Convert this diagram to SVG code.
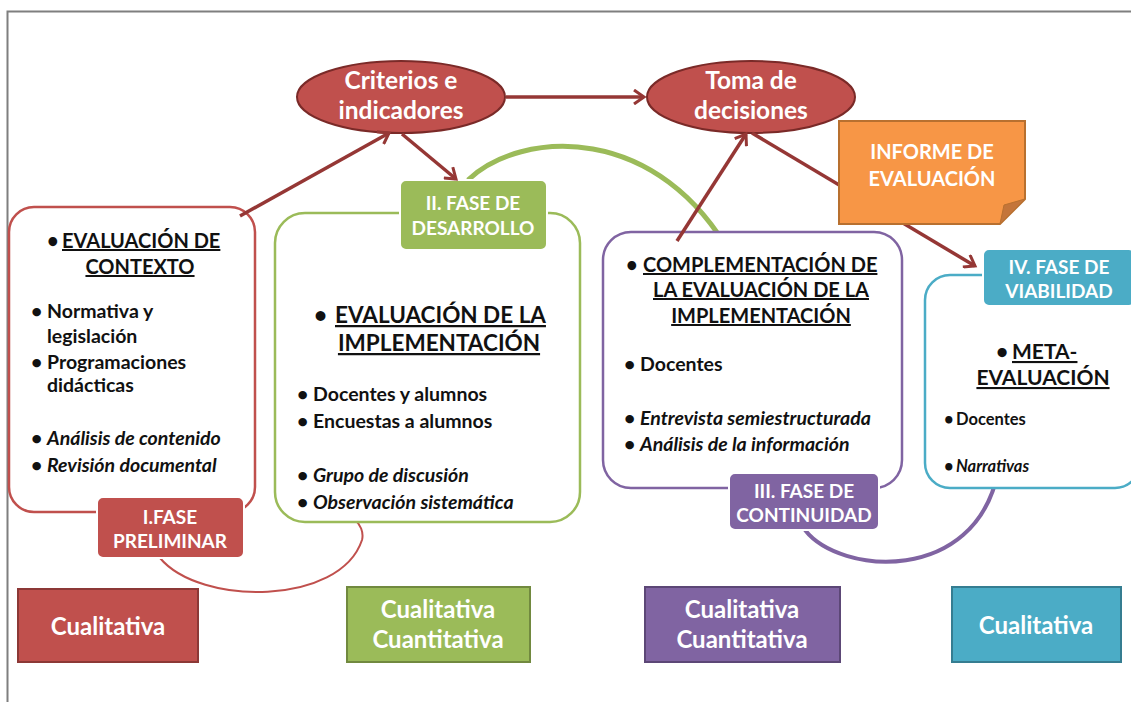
<svg xmlns="http://www.w3.org/2000/svg" width="1131" height="702" viewBox="0 0 1131 702">
<defs>
<marker id="ah" markerWidth="14" markerHeight="16" refX="11" refY="8" orient="auto" markerUnits="userSpaceOnUse" viewBox="0 0 14 16">
<path d="M1,1 L11,8 L1,15" fill="none" stroke="#953735" stroke-width="3"/>
</marker>
<style>
text{font-family:Lato,"Open Sans","Liberation Sans",sans-serif;font-weight:bold}
.w{fill:#fff}
.k{fill:#111}
.c{text-anchor:middle}
.i{font-style:italic}
.u{text-decoration:underline}
.b{font-size:19.5px;fill:#111}
.conn{fill:none;stroke:#953735;stroke-width:3.5;marker-end:url(#ah)}
.lab{stroke:#fff;stroke-width:2}
.lt{fill:#fff;text-anchor:middle;font-size:19px}
</style>
</defs>
<rect width="1131" height="702" fill="#fff"/>
<path d="M7.5,702 V11.5 H1131" fill="none" stroke="#7f7f7f" stroke-width="2"/>

<g id="arcs" fill="none">
<path d="M160,558 C200,606 340,606 362,540 C364,532 360,524 355,520" stroke="#C0504D" stroke-width="2"/>
<path d="M468,180 C520,130 660,120 735,262" stroke="#9BBB59" stroke-width="5"/>
<path d="M805,530 C840,575 975,585 998,472" stroke="#8064A2" stroke-width="4"/>
</g>

<g id="n-contexto">
<rect x="9" y="207" width="246" height="305" rx="25" fill="#fff" stroke="#C0504D" stroke-width="2.5"/>
<text x="47" y="248" class="k" font-size="20">•</text>
<text x="62" y="248" class="k u" font-size="20">EVALUACIÓN DE</text>
<text x="140" y="274" class="k c u" font-size="20">CONTEXTO</text>
<g class="b">
<text x="31" y="318">•</text><text x="47" y="318">Normativa y</text>
<text x="47" y="343">legislación</text>
<text x="31" y="369">•</text><text x="47" y="369">Programaciones</text>
<text x="47" y="392">didácticas</text>
<text x="31" y="445">•</text><text x="47" y="445" class="i">Análisis de contenido</text>
<text x="31" y="472">•</text><text x="47" y="472" class="i">Revisión documental</text>
</g>
</g>
<g id="l-preliminar">
<rect x="97" y="497" width="147" height="61" rx="6" fill="#C0504D" class="lab"/>
<text x="170" y="524" class="lt">I.FASE</text>
<text x="170" y="548" class="lt">PRELIMINAR</text>
</g>

<g id="n-implementacion">
<rect x="275" y="213" width="305" height="309" rx="30" fill="#fff" stroke="#9BBB59" stroke-width="2.5"/>
<text x="314" y="323" class="k" font-size="22.5">•</text>
<text x="335" y="323" class="k u" font-size="22.5">EVALUACIÓN DE LA</text>
<text x="439" y="351" class="k c u" font-size="22.5">IMPLEMENTACIÓN</text>
<g class="b">
<text x="297" y="401">•</text><text x="313" y="401">Docentes y alumnos</text>
<text x="297" y="428">•</text><text x="313" y="428">Encuestas a alumnos</text>
<text x="297" y="482">•</text><text x="313" y="482" class="i">Grupo de discusión</text>
<text x="297" y="509">•</text><text x="313" y="509" class="i">Observación sistemática</text>
</g>
</g>
<g id="l-desarrollo">
<rect x="400" y="180" width="147" height="70" rx="6" fill="#9BBB59" class="lab"/>
<text x="473" y="210" class="lt">II. FASE DE</text>
<text x="473" y="235" class="lt">DESARROLLO</text>
</g>

<g id="n-complementacion">
<rect x="603" y="232" width="299" height="256" rx="28" fill="#fff" stroke="#8064A2" stroke-width="2.5"/>
<text x="626" y="272" class="k" font-size="20">•</text>
<text x="643" y="272" class="k u" font-size="20">COMPLEMENTACIÓN DE</text>
<text x="761" y="297" class="k c u" font-size="20">LA EVALUACIÓN DE LA</text>
<text x="761" y="323" class="k c u" font-size="20">IMPLEMENTACIÓN</text>
<g class="b">
<text x="624" y="371">•</text><text x="640" y="371">Docentes</text>
<text x="624" y="425">•</text><text x="640" y="425" class="i">Entrevista semiestructurada</text>
<text x="624" y="451">•</text><text x="640" y="451" class="i">Análisis de la información</text>
</g>
</g>
<g id="l-continuidad">
<rect x="729" y="473" width="150" height="57" rx="6" fill="#8064A2" class="lab"/>
<text x="804" y="498" class="lt">III. FASE DE</text>
<text x="804" y="522" class="lt">CONTINUIDAD</text>
</g>

<g id="n-meta">
<rect x="925" y="275" width="215" height="213" rx="25" fill="#fff" stroke="#4BACC6" stroke-width="2.5"/>
<text x="996" y="359" class="k" font-size="21">•</text>
<text x="1012" y="359" class="k u" font-size="21">META-</text>
<text x="1043" y="385" class="k c u" font-size="21">EVALUACIÓN</text>
<text x="944" y="425" class="k" font-size="16.5">•</text>
<text x="956" y="425" class="k" font-size="16.5">Docentes</text>
<text x="944" y="472" class="k" font-size="16.5">•</text>
<text x="956" y="472" class="k i" font-size="16.5">Narrativas</text>
</g>
<g id="l-viabilidad">
<rect x="983" y="249" width="152" height="57" rx="6" fill="#4BACC6" class="lab"/>
<text x="1059" y="274" class="lt">IV. FASE DE</text>
<text x="1059" y="298" class="lt">VIABILIDAD</text>
</g>

<g id="n-criterios">
<ellipse cx="401" cy="97" rx="104" ry="36" fill="#C0504D" stroke="#7a2a28" stroke-width="2"/>
<text x="401" y="89" class="w c" font-size="24.5">Criterios e</text>
<text x="401" y="119" class="w c" font-size="24.5">indicadores</text>
</g>
<g id="n-toma">
<ellipse cx="751" cy="97" rx="104" ry="36" fill="#C0504D" stroke="#7a2a28" stroke-width="2"/>
<text x="751" y="89" class="w c" font-size="24.5">Toma de</text>
<text x="751" y="119" class="w c" font-size="24.5">decisiones</text>
</g>

<g id="connectors">
<line x1="506" y1="97" x2="644" y2="97" class="conn"/>
<line x1="240" y1="216" x2="389" y2="133" class="conn"/>
<line x1="402" y1="134" x2="456" y2="179" class="conn"/>
<line x1="677" y1="241" x2="746" y2="134" class="conn"/>
<line x1="752" y1="133" x2="975" y2="266" class="conn"/>
</g>

<g id="n-informe">
<path d="M839,121 H1025 V199 L1000,224 H839 Z" fill="#F79646" stroke="#B8702F" stroke-width="2"/>
<path d="M1000,224 L1004,205 L1025,199 Z" fill="#c4753a" stroke="#B8702F" stroke-width="1"/>
<text x="932" y="159" class="w c" font-size="20">INFORME DE</text>
<text x="932" y="186" class="w c" font-size="20">EVALUACIÓN</text>
</g>

<g id="n-b1">
<rect x="18" y="589" width="180" height="73" fill="#C0504D" stroke="#8C3836" stroke-width="2"/>
<text x="108" y="635" class="w c" font-size="24">Cualitativa</text>
</g>
<g id="n-b2">
<rect x="347" y="587" width="183" height="75" fill="#9BBB59" stroke="#71893F" stroke-width="2"/>
<text x="438" y="618" class="w c" font-size="24">Cualitativa</text>
<text x="438" y="648" class="w c" font-size="24">Cuantitativa</text>
</g>
<g id="n-b3">
<rect x="645" y="587" width="195" height="75" fill="#8064A2" stroke="#5C4776" stroke-width="2"/>
<text x="742" y="618" class="w c" font-size="24">Cualitativa</text>
<text x="742" y="648" class="w c" font-size="24">Cuantitativa</text>
</g>
<g id="n-b4">
<rect x="952" y="587" width="169" height="75" fill="#4BACC6" stroke="#357D91" stroke-width="2"/>
<text x="1036" y="634" class="w c" font-size="24">Cualitativa</text>
</g>
</svg>
